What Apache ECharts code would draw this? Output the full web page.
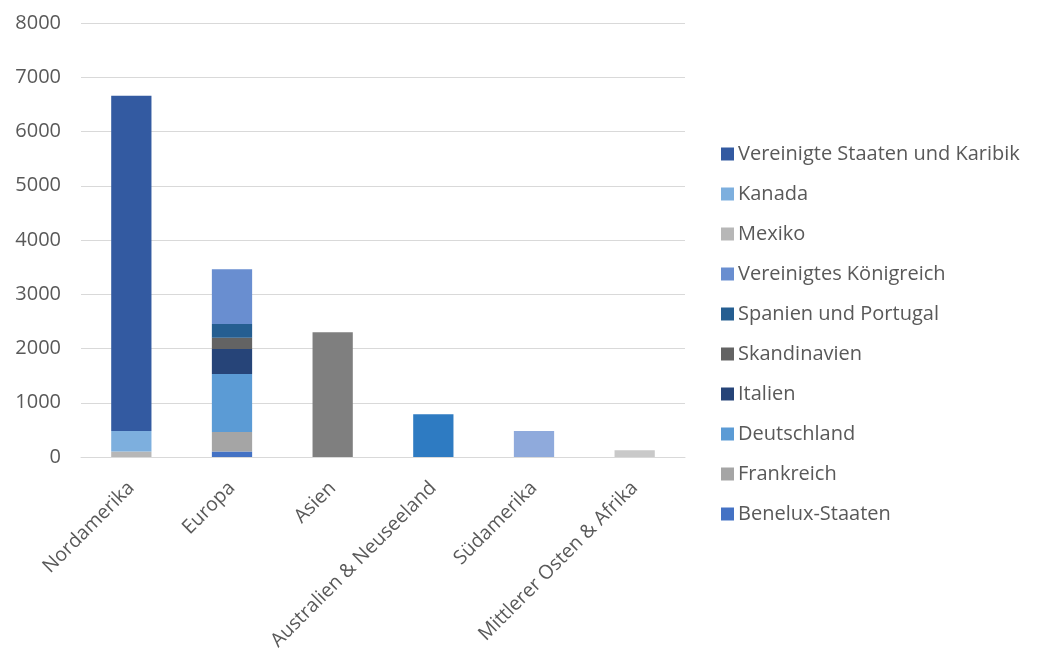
<!DOCTYPE html>
<html>
<head>
<meta charset="utf-8">
<script src="https://cdn.jsdelivr.net/npm/echarts@6/dist/echarts.min.js"></script>
<style>
html,body{margin:0;padding:0;background:#fff;}
#c{width:1042px;height:669px;}
</style>
</head>
<body>
<div id="c"></div>
<script>
const categories = ['Nordamerika', 'Europa', 'Asien', 'Australien & Neuseeland', 'Südamerika', 'Mittlerer Osten & Afrika'];
const yTicks = [0, 1000, 2000, 3000, 4000, 5000, 6000, 7000, 8000];

// stacked from bottom to top
const benelux      = [0, 100, 0, 0, 0, 0];
const frankreich   = [0, 360, 0, 0, 0, 0];
const deutschland  = [0, 1070, 0, 0, 0, 0];
const italien      = [0, 460, 0, 0, 0, 0];
const skandinavien = [0, 210, 0, 0, 0, 0];
const spanien      = [0, 250, 0, 0, 0, 0];
const vk           = [0, 1010, 0, 0, 0, 0];
const mexiko       = [100, 0, 0, 0, 0, 0];
const kanada       = [380, 0, 0, 0, 0, 0];
const usa          = [6180, 0, 0, 0, 0, 0];
const asien        = [0, 0, 2300, 0, 0, 0];
const australien   = [0, 0, 0, 790, 0, 0];
const suedamerika  = [0, 0, 0, 0, 480, 0];
const mittlererOsten = [0, 0, 0, 0, 0, 125];

const seriesDefs = [
  ['Benelux-Staaten', benelux, '#4472C4'],
  ['Frankreich', frankreich, '#A5A5A5'],
  ['Deutschland', deutschland, '#5B9BD5'],
  ['Italien', italien, '#264478'],
  ['Skandinavien', skandinavien, '#636363'],
  ['Spanien und Portugal', spanien, '#255E91'],
  ['Vereinigtes Königreich', vk, '#698ED0'],
  ['Mexiko', mexiko, '#B7B7B7'],
  ['Kanada', kanada, '#7DAFDE'],
  ['Vereinigte Staaten und Karibik', usa, '#335AA1'],
  ['Asien', asien, '#7F7F7F'],
  ['Australien & Neuseeland', australien, '#2E7BC2'],
  ['Südamerika', suedamerika, '#8FAADC'],
  ['Mittlerer Osten & Afrika', mittlererOsten, '#C9C9C9']
];
const legendNames = seriesDefs.slice(0, 10).map(d => d[0]).reverse();

const font = "'Open Sans', 'Noto Sans', sans-serif";
const chart = echarts.init(document.getElementById('c'), null, {renderer: 'canvas'});
chart.setOption({
  animation: false,
  grid: {left: 81, right: 357, top: 23, bottom: 212, containLabel: false},
  legend: {
    orient: 'vertical',
    left: 716, top: 138,
    data: legendNames,
    itemWidth: 13, itemHeight: 13, itemGap: 18,
    icon: 'rect',
    textStyle: {fontFamily: font, fontSize: 20, color: '#595959', lineHeight: 22, padding: [0, 0, 0, -1]}
  },
  xAxis: {
    type: 'category',
    data: categories,
    axisLine: {lineStyle: {color: '#D9D9D9', width: 1}},
    axisTick: {show: false},
    axisLabel: {rotate: 45, interval: 0, fontFamily: font, fontSize: 19.5, color: '#595959', margin: 28}
  },
  yAxis: {
    type: 'value',
    min: yTicks[0], max: yTicks[yTicks.length - 1], interval: 1000,
    axisLine: {show: false},
    axisTick: {show: false},
    splitLine: {lineStyle: {color: '#D9D9D9', width: 1}},
    axisLabel: {fontFamily: font, fontSize: 20, color: '#595959', margin: 20, formatter: v => String(v)}
  },
  series: seriesDefs.map(d => ({
    name: d[0], type: 'bar', stack: 'total', data: d[1],
    barWidth: '40%', itemStyle: {color: d[2]}
  }))
});
</script>
</body>
</html>
